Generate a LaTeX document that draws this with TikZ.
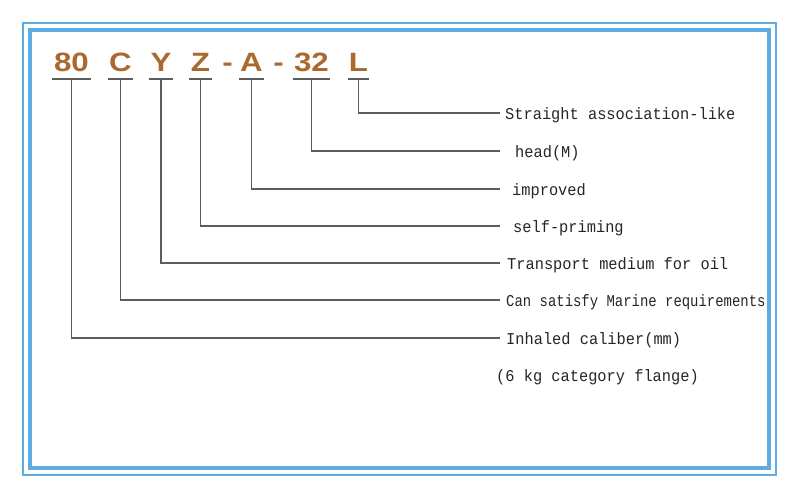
\documentclass[tikz,border=0pt]{standalone}
\usepackage{fontspec}
\setmainfont{Liberation Serif}
\newfontfamily\codefont[FakeStretch=1.18]{Liberation Sans}
\newfontfamily\lblfont[FakeStretch=0.93]{Liberation Mono}
\newfontfamily\lblnarrow[FakeStretch=0.845]{Liberation Mono}

\definecolor{framblue}{RGB}{93,172,226}
\definecolor{codebrown}{RGB}{170,106,46}
\definecolor{linegray}{RGB}{92,92,92}

\begin{document}
\begin{tikzpicture}[x=1pt, y=-1pt,
    code/.style={font=\codefont\bfseries\fontsize{26.5}{30}\selectfont, text=codebrown,
                 anchor=south, inner xsep=0pt, inner ysep=7pt},
    uline/.style={draw=linegray, line width=1.3pt},
    conn/.style={draw=linegray, line width=1.3pt},
    lbl/.style={font=\lblfont\fontsize{16.5}{19}\selectfont, text=black!85,
                anchor=base west, inner sep=0pt}]

    % --- Page and frame ---
    \useasboundingbox (0,0) rectangle (800,498);
    \fill[white] (0,0) rectangle (800,498);
    \draw[framblue, line width=1.2pt] (23,23) rectangle (776,475);
    \draw[framblue, line width=4pt] (30,30) rectangle (769,467.5);

    % --- Model code, piece by piece ---
    % South of each node is where its underline sits
    \node[code, minimum width=39pt] (c80) at (71.5,79) {80};
    \node[code, minimum width=25pt] (cC) at (120.5,79) {C};
    \node[code, minimum width=24pt] (cY) at (161,79) {Y};
    \node[code, minimum width=22pt] (cZ) at (200.5,79) {Z};
    \node[code] (dashA) at (227.5,79) {-};
    \node[code, minimum width=24pt] (cA) at (251.5,79) {A};
    \node[code] (dashB) at (278.5,79) {-};
    \node[code, minimum width=37pt] (c32) at (311.5,79) {32};
    \node[code, minimum width=21pt] (cL) at (358.5,79) {L};

    % Underlines
    \draw[uline] (c80.south west) -- (c80.south east);
    \draw[uline] (cC.south west) -- (cC.south east);
    \draw[uline] (cY.south west) -- (cY.south east);
    \draw[uline] (cZ.south west) -- (cZ.south east);
    \draw[uline] (cA.south west) -- (cA.south east);
    \draw[uline] (c32.south west) -- (c32.south east);
    \draw[uline] (cL.south west) -- (cL.south east);

    % --- Line ends on the right ---
    \coordinate (eL) at (500,113);
    \coordinate (e32) at (500,151);
    \coordinate (eA) at (500,189);
    \coordinate (eZ) at (500,226);
    \coordinate (eY) at (500,263);
    \coordinate (eC) at (500,300);
    \coordinate (e80) at (500,338);

    % --- Connectors ---
    \draw[conn] (cL.south) |- (eL);
    \draw[conn] (c32.south) |- (e32);
    \draw[conn] (cA.south) |- (eA);
    \draw[conn] (cZ.south) |- (eZ);
    \draw[conn] (cY.south) |- (eY);
    \draw[conn] (cC.south) |- (eC);
    \draw[conn] (c80.south) |- (e80);

    % --- Meanings ---
    \node[lbl] (tL) at ([xshift=5pt, yshift=-6.5pt] eL) {Straight association-like};
    \node[lbl] (t32) at ([xshift=15pt, yshift=-6.5pt] e32) {head(M)};
    \node[lbl] (tA) at ([xshift=12pt, yshift=-6.5pt] eA) {improved};
    \node[lbl] (tZ) at ([xshift=13pt, yshift=-6.5pt] eZ) {self-priming};
    \node[lbl] (tY) at ([xshift=7pt, yshift=-6.5pt] eY) {Transport medium for oil};
    \node[lbl, font=\lblnarrow\fontsize{16.5}{19}\selectfont] (tC)
        at ([xshift=6pt, yshift=-6.5pt] eC) {Can satisfy Marine requirements};
    \node[lbl] (t80) at ([xshift=6pt, yshift=-6.5pt] e80) {Inhaled caliber(mm)};
    \node[lbl] (tflange) at (496,381) {(6 kg category flange)};

\end{tikzpicture}
\end{document}
